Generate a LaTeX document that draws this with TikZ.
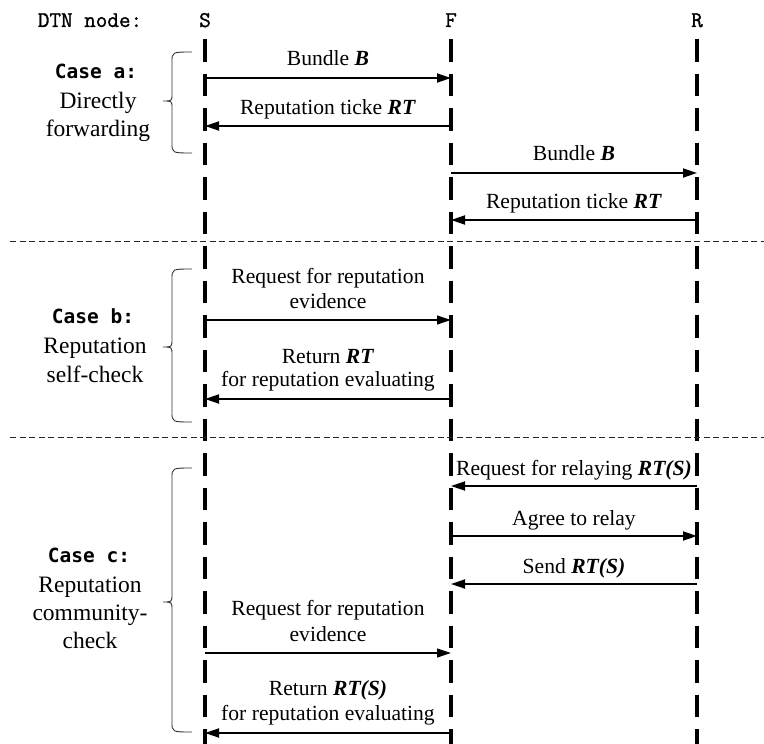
\documentclass[tikz,border=0pt]{standalone}
\usepackage{fontspec}
\setmainfont{Liberation Serif}
\newfontfamily\casefont{DejaVu Sans Mono}
\newfontfamily\hdrfont{Latin Modern Mono}[FakeBold=1.2]
\usetikzlibrary{arrows.meta}
\begin{document}
\begin{tikzpicture}[x=1pt,y=-1pt,
  head/.style={anchor=base,inner sep=0pt,font=\hdrfont\fontsize{22.5}{26}\selectfont},
  lifeline/.style={line width=3.2pt,dash pattern=on 22.5pt off 12pt},
  sep/.style={line width=0.8pt,dash pattern=on 6pt off 3.5pt,black!85},
  msg/.style={line width=1.8pt,-{Triangle[length=14pt,width=9pt]}},
  msgthin/.style={line width=1.2pt,-{Triangle[length=14pt,width=9pt]}},
  lbl/.style={anchor=base,inner sep=0pt,font=\fontsize{21.6}{25}\selectfont},
  side/.style={anchor=base,inner sep=0pt,font=\fontsize{23.5}{28}\selectfont},
  casel/.style={anchor=base,inner sep=0pt,font=\casefont\bfseries\fontsize{19.5}{23}\selectfont},
  bracel/.style={line width=0.9pt,black!80}]
\useasboundingbox (0,0) rectangle (764,744);
% header
\node[head] (hdr) at (90,27) {DTN node:};
\node[head] (S) at (205,27) {S};
\node[head] (F) at (451,27) {F};
\node[head] (R) at (697,27) {R};
% lifelines
\coordinate (S0) at (205,39); \coordinate (S1) at (205,744);
\coordinate (F0) at (451,39); \coordinate (F1) at (451,744);
\coordinate (R0) at (697,39); \coordinate (R1) at (697,744);
\draw[lifeline] (S0) -- (S1);
\draw[lifeline] (F0) -- (F1);
\draw[lifeline] (R0) -- (R1);
% separators
\coordinate (sepA0) at (10,241); \coordinate (sepA1) at (764,241);
\coordinate (sepB0) at (10,437); \coordinate (sepB1) at (764,437);
\draw[sep] (sepA0) -- (sepA1);
\draw[sep] (sepB0) -- (sepB1);
% ---- Case a
\node[lbl] (a1) at (328,65) {Bundle \textbf{\textit{B}}};
\draw[msg] (S0 |- 0,78) -- (F0 |- 0,78);
\node[lbl] (a2) at (328,114) {Reputation ticke \textbf{\textit{RT}}};
\draw[msg] (F0 |- 0,126) -- (S0 |- 0,126);
\node[lbl] (a3) at (574,160) {Bundle \textbf{\textit{B}}};
\draw[msg] (F0 |- 0,173) -- (R0 |- 0,173);
\node[lbl] (a4) at (574,208) {Reputation ticke \textbf{\textit{RT}}};
\draw[msg] (R0 |- 0,220) -- (F0 |- 0,220);
% ---- Case b
\node[lbl] (b1) at (328,283) {Request for reputation};
\node[lbl] (b2) at (328,308) {evidence};
\draw[msgthin] (S0 |- 0,320) -- (F0 |- 0,320);
\node[lbl] (b3) at (328,363) {Return \textbf{\textit{RT}}};
\node[lbl] (b4) at (328,386) {for reputation evaluating};
\draw[msg] (F0 |- 0,399) -- (S0 |- 0,399);
% ---- Case c
\node[lbl] (c1) at (574,475) {Request for relaying \textbf{\textit{RT(S)}}};
\draw[msg] (R0 |- 0,486) -- (F0 |- 0,486);
\node[lbl] (c2) at (574,525) {Agree to relay};
\draw[msg] (F0 |- 0,536) -- (R0 |- 0,536);
\node[lbl] (c3) at (574,573) {Send \textbf{\textit{RT(S)}}};
\draw[msg] (R0 |- 0,584) -- (F0 |- 0,584);
\node[lbl] (c4) at (328,615) {Request for reputation};
\node[lbl] (c5) at (328,641) {evidence};
\draw[msgthin] (S0 |- 0,653) -- (F0 |- 0,653);
\node[lbl] (c6) at (328,695) {Return \textbf{\textit{RT(S)}}};
\node[lbl] (c7) at (328,720) {for reputation evaluating};
\draw[msg] (F0 |- 0,733) -- (S0 |- 0,733);
% ---- side labels
\node[casel] (ca) at (96,78) {Case a:};
\node[side] (ca1) at (98,108) {Directly};
\node[side] (ca2) at (98,136) {forwarding};
\node[casel] (cb) at (93,323) {Case b:};
\node[side] (cb1) at (95,353) {Reputation};
\node[side] (cb2) at (95,382) {self-check};
\node[casel] (cc) at (89,562) {Case c:};
\node[side] (cc1) at (90,592) {Reputation};
\node[side] (cc2) at (90,620) {community-};
\node[side] (cc3) at (90,648) {check};
% ---- braces
\draw[bracel] (192,52) .. controls (172,52) .. (172,62) -- (172,94)
  .. controls (172,101) .. (163,101) .. controls (172,101) .. (172,108)
  -- (172,143) .. controls (172,153) .. (192,153);
\draw[bracel] (192,269) .. controls (172,269) .. (172,279) -- (172,339)
  .. controls (172,347) .. (163,347) .. controls (172,347) .. (172,355)
  -- (172,412) .. controls (172,422) .. (192,422);
\draw[bracel] (192,468) .. controls (172,468) .. (172,478) -- (172,594)
  .. controls (172,602) .. (163,602) .. controls (172,602) .. (172,610)
  -- (172,722) .. controls (172,732) .. (192,732);
\end{tikzpicture}
\end{document}
